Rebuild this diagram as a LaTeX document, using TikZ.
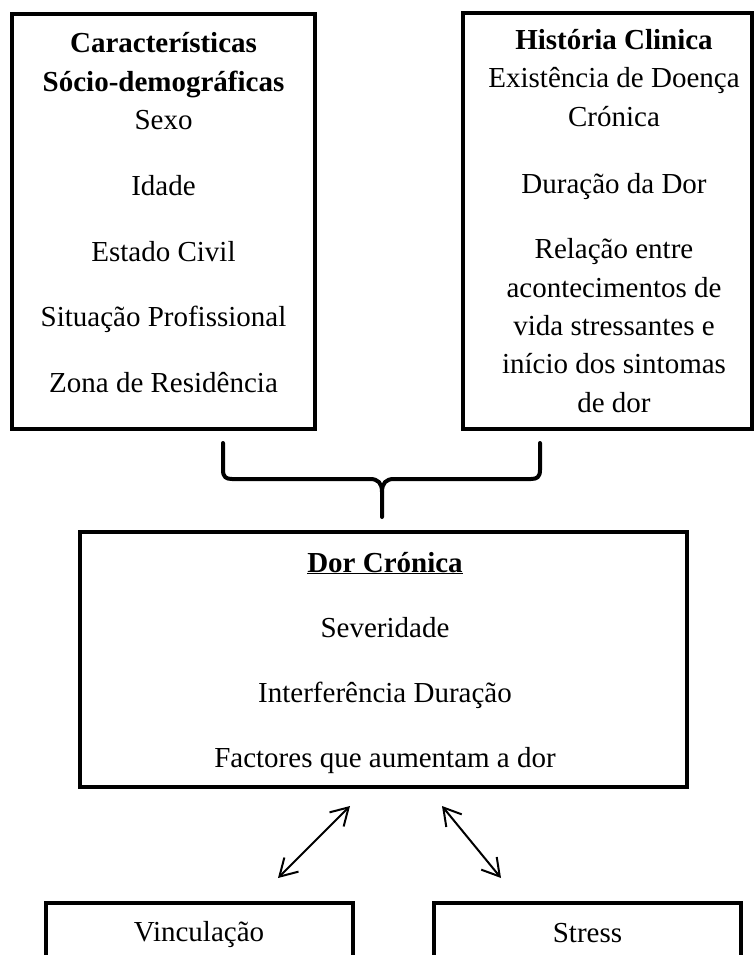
\documentclass[tikz,border=0pt]{standalone}
\usepackage{fontspec}
\setmainfont{Liberation Serif}
\usetikzlibrary{arrows.meta}
\begin{document}
\begin{tikzpicture}[x=1pt,y=-1pt,
  box/.style={draw, line width=4.5pt, rectangle, inner sep=0pt},
  txt/.style={anchor=base, inner sep=0pt, font=\fontsize{29}{35}\selectfont},
  btxt/.style={anchor=base, inner sep=0pt, font=\fontsize{29}{35}\selectfont\bfseries},
  link/.style={line width=2pt, {Straight Barb[length=17pt,width=20pt]}-{Straight Barb[length=17pt,width=20pt]}},
  bracepath/.style={line width=4pt, line cap=round, line join=round}]
\useasboundingbox (0,0) rectangle (755,955);
\clip (0,0) rectangle (755,955);
% boxes
\node[box, minimum width=303pt, minimum height=415pt] (socio) at (163.5,221.5) {};
\node[box, minimum width=289pt, minimum height=416pt] (hist) at (607.5,221) {};
\node[box, minimum width=607pt, minimum height=255pt] (dor) at (383.5,659.5) {};
\node[box, minimum width=307pt, minimum height=100pt] (vinc) at (199.5,953) {};
\node[box, minimum width=307pt, minimum height=100pt] (stress) at (587.5,953) {};
% left box text
\node[btxt] (s1) at (163.5,53) {Características};
\node[btxt] (s2) at (163.5,92) {Sócio-demográficas};
\node[txt] (s3) at (163.5,130) {Sexo};
\node[txt] (s4) at (163.5,195) {Idade};
\node[txt] (s5) at (163.5,261) {Estado Civil};
\node[txt] (s6) at (163.5,326) {Situação Profissional};
\node[txt] (s7) at (163.5,392) {Zona de Residência};
% right box text
\node[btxt] (h1) at (614,50) {História Clinica};
\node[txt] (h2) at (614,88) {Existência de Doença};
\node[txt] (h3) at (614,127) {Crónica};
\node[txt] (h4) at (614,193) {Duração da Dor};
\node[txt] (h5) at (614,258) {Relação entre};
\node[txt] (h6) at (614,297) {acontecimentos de};
\node[txt] (h7) at (614,335) {vida stressantes e};
\node[txt] (h8) at (614,373) {início dos sintomas};
\node[txt] (h9) at (614,412) {de dor};
% middle box text
\node[btxt] (d1) at (385,572) {\underline{Dor Crónica}};
\node[txt] (d2) at (385,637) {Severidade};
\node[txt] (d3) at (385,702) {Interferência Duração};
\node[txt] (d4) at (385,767) {Factores que aumentam a dor};
% bottom texts
\node[txt] (v1) at (199,941) {Vinculação};
\node[txt] (t1) at (587.5,942) {Stress};
% brace
\coordinate (bl) at (223,443);
\coordinate (br) at (540,443);
\coordinate (bm) at (382,517);
\draw[bracepath] (bl) -- (223,470) .. controls (223,477) and (226,479) .. (232,479)
  -- (370,479) .. controls (378,479) and (382,483) .. (382,492) -- (bm);
\draw[bracepath] (br) -- (540,470) .. controls (540,477) and (537,479) .. (531,479)
  -- (394,479) .. controls (386,479) and (382,483) .. (382,492);
% arrows
\coordinate (a1) at (350,806);
\coordinate (b1) at (278,878);
\coordinate (a2) at (442,806);
\coordinate (b2) at (501,878);
\draw[link] (a1) -- (b1);
\draw[link] (a2) -- (b2);
\end{tikzpicture}
\end{document}
